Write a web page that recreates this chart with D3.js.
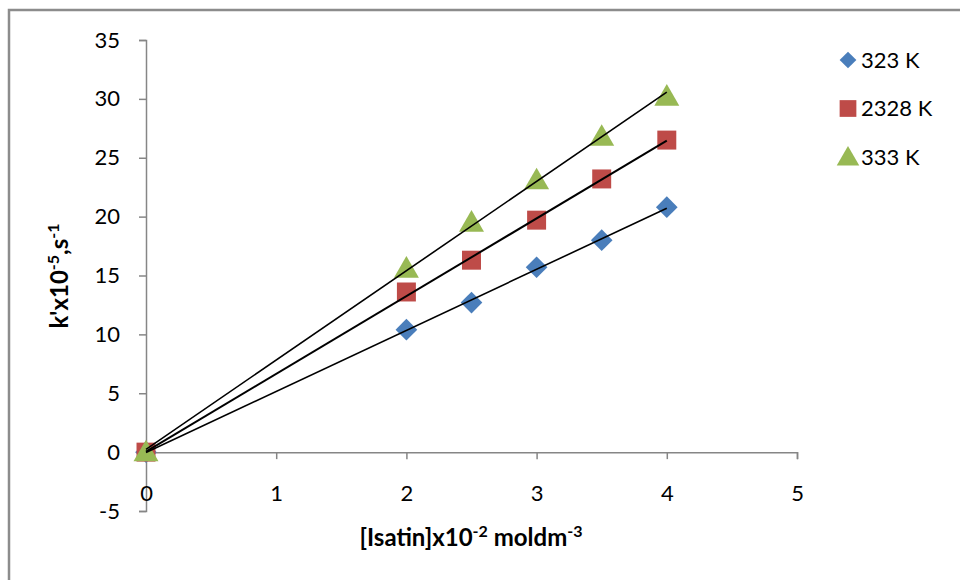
<!DOCTYPE html>
<html><head><meta charset="utf-8">
<script src="https://cdn.jsdelivr.net/npm/d3@7"></script>
<style>body{margin:0;background:#fff;} svg{display:block;} text{font-family:Lato,"Open Sans",sans-serif;}</style>
</head><body>
<svg id="c" width="960" height="580"></svg>
<script>
const xValues = [0, 2, 2.5, 3, 3.5, 4];
const series323 = [0, 10.4, 12.7, 15.7, 18.0, 20.8];
const series2328 = [0, 13.6, 16.3, 19.7, 23.2, 26.5];
const series333 = [0, 15.6, 19.5, 23.1, 26.8, 30.2];
const seriesNames = ["323 K", "2328 K", "333 K"];
const seriesColors = ["#4a7ebb", "#be4b48", "#98b954"];
const xTicks = [0, 1, 2, 3, 4, 5];
const yTicks = [-5, 0, 5, 10, 15, 20, 25, 30, 35];

const svg = d3.select("#c");
svg.append("path").attr("d","M9,580 V10 H960").attr("fill","none").attr("stroke","#8c8c8c").attr("stroke-width",2.5);

const x = d3.scaleLinear().domain([0,5]).range([146,797]);
const y = d3.scaleLinear().domain([-5,35]).range([511,40]);
const axisColor = "#868686";
const fmt = d => String(d);
const FS = "22px";

const ya = svg.append("g").attr("transform",`translate(${x(0)},0)`)
  .call(d3.axisLeft(y).tickValues(yTicks).tickFormat(fmt).tickSize(7).tickPadding(19));
ya.select(".domain").attr("stroke",axisColor).attr("stroke-width",1.5);
ya.selectAll(".tick line").attr("stroke",axisColor).attr("stroke-width",1.5);
ya.selectAll("text").style("font-size",FS).style("font-family","Lato, sans-serif").attr("fill","#000");

const xa = svg.append("g").attr("transform",`translate(0,${y(0)})`)
  .call(d3.axisBottom(x).tickValues(xTicks).tickFormat(fmt).tickSize(7).tickPadding(26));
xa.select(".domain").attr("stroke",axisColor).attr("stroke-width",1.5);
xa.selectAll(".tick line").attr("stroke",axisColor).attr("stroke-width",1.5);
xa.selectAll("text").style("font-size",FS).style("font-family","Lato, sans-serif").attr("fill","#000");

const all = [series323, series2328, series333];

function fit(ys){
  const n=xValues.length, mx=d3.mean(xValues), my=d3.mean(ys);
  let sxy=0,sxx=0;
  for(let i=0;i<n;i++){sxy+=(xValues[i]-mx)*(ys[i]-my);sxx+=(xValues[i]-mx)**2;}
  const b=sxy/sxx; return {b, a:my-b*mx};
}
const sym = [d3.symbolSquare, d3.symbolSquare, d3.symbolTriangle];
const sizes = [235, 360, 270];
const rot = [45, 0, 0];

const mg = svg.append("g");
const lnG = svg.append("g");
all.forEach((ys,i)=>{
  mg.selectAll(null).data(xValues.map((xv,j)=>[xv,ys[j]])).enter().append("path")
    .attr("d",d3.symbol().type(sym[i]).size(sizes[i]))
    .attr("transform",d=>`translate(${x(d[0])},${y(d[1])+(i===2?2:0)}) rotate(${rot[i]})`)
    .attr("fill",seriesColors[i]);
});
all.forEach((ys,i)=>{
  const f=fit(ys);
  lnG.append("line").attr("x1",x(0)).attr("y1",y(f.a)).attr("x2",x(4)).attr("y2",y(f.a+f.b*4))
    .attr("stroke","#000").attr("stroke-width",i===1?2:1.6);
});

const lg = svg.append("g");
const legSizes = [140, 280, 220];
seriesNames.forEach((n,i)=>{
  const ly = 60 + i*48.5;
  lg.append("path").attr("d",d3.symbol().type(sym[i]).size(legSizes[i]))
    .attr("transform",`translate(848,${ly+(i===2?2:0)}) rotate(${rot[i]})`)
    .attr("fill",seriesColors[i]);
  lg.append("text").attr("x",861).attr("y",ly).attr("dy","0.36em").style("font-size",FS).text(n);
});

const yt = svg.append("text").attr("transform","translate(68,276) rotate(-90)")
  .attr("text-anchor","middle").style("font-size","24px").attr("font-weight","bold");
yt.append("tspan").text("k'x10");
yt.append("tspan").style("font-size","16px").attr("dy",-9).text("-5");
yt.append("tspan").attr("dy",9).text(",s");
yt.append("tspan").style("font-size","16px").attr("dy",-9).text("-1");

const xt = svg.append("text").attr("x",471).attr("y",546)
  .attr("text-anchor","middle").style("font-size","24px").attr("font-weight","bold");
xt.append("tspan").text("[Isatin]x10");
xt.append("tspan").style("font-size","16px").attr("dy",-9).text("-2");
xt.append("tspan").attr("dy",9).text(" moldm");
xt.append("tspan").style("font-size","16px").attr("dy",-9).text("-3");
</script>
</body></html>
